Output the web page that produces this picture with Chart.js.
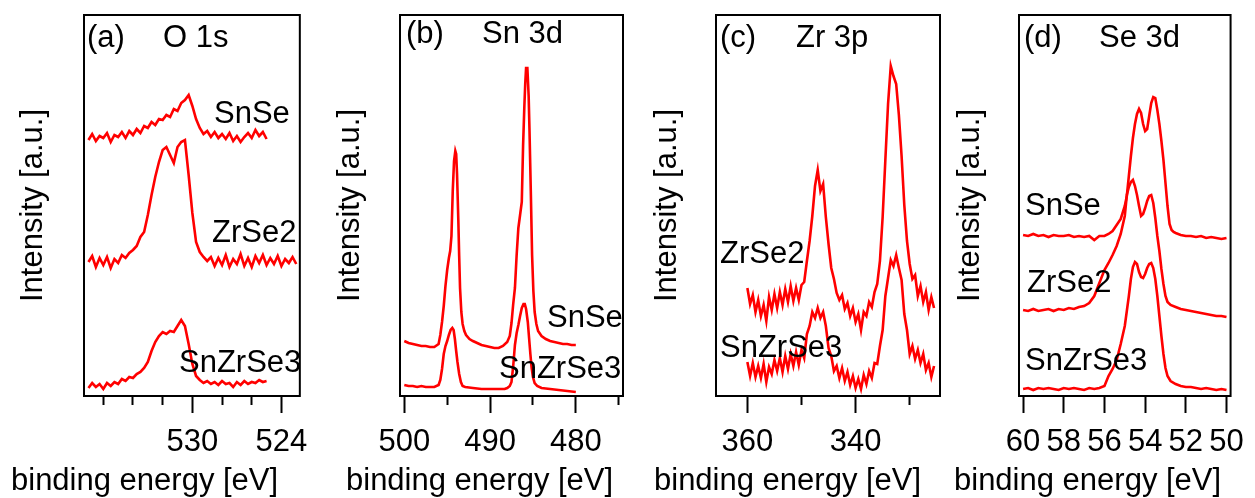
<!DOCTYPE html>
<html><head><meta charset="utf-8">
<script src="https://cdn.jsdelivr.net/npm/chart.js@4.4.1/dist/chart.umd.min.js"></script>
<style>
html,body{margin:0;padding:0;background:#fff;}
#wrap{position:relative;width:1255px;height:498px;overflow:hidden;background:#fff;}
canvas{position:absolute;top:0;}
</style></head><body><div id="wrap">
<canvas id="pa"></canvas><canvas id="pb"></canvas><canvas id="pc"></canvas><canvas id="pd"></canvas>
</div>
<script>
// ---------- (a) O 1s ----------
const aEnergy = [537,536.75,536.5,536.25,536,535.75,535.5,535.25,535,534.75,534.5,534.25,534,533.75,533.5,533.25,533,532.75,532.5,532.25,532,531.75,531.5,531.25,531,530.75,530.5,530.25,530,529.75,529.5,529.25,529,528.75,528.5,528.25,528,527.75,527.5,527.25,527,526.75,526.5,526.25,526,525.75,525.5,525.25,525,524.75,524.5,524.25,524,523.75,523.5,523.25,523];
const aSnSe = [256,262,255,260,258,263,254,261,259,264,258,265,261,267,263,270,268,274,271,277,276,281,279,287,285,293,296,301,290,277,268,262,265,259,264,258,262,257,263,255,260,254,259,263,258,266,260,264,257,null,null,null,null,null,null,null,null];
const aZrSe2 = [134,140,129,138,131,139,128,137,133,141,138,143,146,150,159,164,181,201,219,234,246,249,241,233,249,254,256,221,183,154,144,139,135,139,130,138,131,141,129,137,132,142,130,138,129,140,133,141,131,138,132,140,130,137,133,139,132];
const aSnZrSe3 = [8,13,9,12,7,13,10,14,12,17,15,19,18,22,24,28,34,45,54,60,64,62,65,64,70,76,70,52,32,20,16,13,15,12,14,11,15,12,13,9,14,11,15,12,14,13,16,14,15,null,null,null,null,null,null,null,null];
const aMajor = [530,524];
const aMinor = [536,534,532,528,526];

// ---------- (b) Sn 3d ----------
const bSnSeE = [500.0,499.5,499.0,498.5,498.0,497.5,497.0,496.5,496.0,495.8,495.6,495.4,495.2,495.0,494.8,494.65,494.5,494.35,494.2,494.05,493.95,493.85,493.7,493.6,493.5,493.35,493.2,493.0,492.8,492.4,492.0,491.5,491.0,490.5,490.0,489.5,489.0,488.5,488.0,487.7,487.5,487.3,487.1,486.9,486.7,486.5,486.3,486.15,486.0,485.9,485.8,485.65,485.5,485.4,485.25,485.1,484.95,484.8,484.6,484.4,484.0,483.5,483.0,482.5,482.0,481.5,481.0,480.5,480.0];
const bSnSeI = [55,53,52,51,50,50,49,49,52,61,74,90,110,126,138,145,160,205,235,245,242,222,176,140,108,84,72,65,61,57,55,53,51,50,49,48,48,50,54,60,73,92,108,141,168,181,194,250,290,312,328,328,300,265,205,141,105,84,72,65,60,57,55,54,53,52,52,51,51];
const bSnZrSe3E = [500.0,499.5,499.0,498.5,498.0,497.5,497.0,496.5,496.0,495.8,495.6,495.4,495.2,495.0,494.8,494.6,494.4,494.25,494.1,493.95,493.8,493.6,493.4,493.2,492.9,492.0,491.0,490.0,489.0,488.3,488.0,487.7,487.5,487.3,487.1,486.9,486.7,486.5,486.3,486.1,485.95,485.8,485.6,485.45,485.3,485.15,485.0,484.8,484.5,484.0,483.0,482.0,481.0,480.0];
const bSnZrSe3I = [11,10,10,9,10,9,9,9,11,16,27,42,50,55,61,66,68,66,57,45,34,22,14,10,9,8,7,7,7,7,8,10,14,30,51,63,71,80,88,92,92,87,74,58,42,28,19,13,10,8,7,6,5,4];
const bMajor = [500,490,480];
const bMinor = [495,485,475];

// ---------- (c) Zr 3p ----------
const cEnergy = [360,359.5,359,358.5,358,357.5,357,356.5,356,355.5,355,354.5,354,353.5,353,352.5,352,351.5,351,350.5,350,349.5,349,348.5,348,347.5,347,346.5,346,345.5,345,344.5,344,343.5,343,342.5,342,341.5,341,340.5,340,339.5,339,338.5,338,337.5,337,336.5,336,335.5,335,334.5,334,333.5,333,332.5,332,331.5,331,330.5,330,329.5,329,328.5,328,327.5,327,326.5,326,325.5];
const cZrSe2 = [108,92,101,84,96,80,91,75,99,86,102,88,104,91,107,94,110,95,108,96,111,114,135,155,180,210,226,205,212,179,152,128,117,103,96,101,87,93,80,88,74,82,66,84,80,94,89,104,112,135,179,236,292,330,320,312,281,240,191,155,132,117,121,100,110,94,104,86,99,88];
const cSnZrSe3 = [34,20,33,19,30,18,32,14,29,22,36,25,38,24,40,27,42,30,44,31,46,38,62,70,84,78,88,78,84,70,48,40,25,30,18,28,15,24,11,20,8,17,7,21,12,25,18,33,32,50,66,100,118,136,130,141,128,116,82,66,42,50,37,46,33,42,26,33,19,30];
const cMajor = [360,340];
const cMinor = [350,330];

// ---------- (d) Se 3d ----------
const dSnSeE = [60.0,59.75,59.5,59.25,59.0,58.75,58.5,58.25,58.0,57.75,57.5,57.25,57.0,56.75,56.5,56.25,56.0,55.8,55.6,55.4,55.2,55.0,54.9,54.8,54.7,54.6,54.5,54.4,54.3,54.2,54.1,54.0,53.9,53.8,53.7,53.6,53.5,53.4,53.3,53.2,53.1,53.0,52.9,52.8,52.7,52.6,52.5,52.25,52.0,51.75,51.5,51.25,51.0,50.75,50.5,50.25,50.0];
const dSnSeI = [161,160,162,160,161,159,161,160,160,161,159,160,159,160,156,160,160,162,165,171,177,190,200,220,240,258,272,282,287,283,272,265,267,280,293,299,298,286,272,255,236,213,190,172,166,164,163,161,160,160,159,160,158,159,158,157,158];
const dZrSe2E = [60.0,59.75,59.5,59.25,59.0,58.75,58.5,58.25,58.0,57.75,57.5,57.25,57.0,56.75,56.5,56.25,56.0,55.8,55.6,55.4,55.2,55.0,54.9,54.8,54.7,54.6,54.5,54.4,54.3,54.2,54.1,54.0,53.9,53.8,53.7,53.6,53.5,53.4,53.3,53.2,53.1,53.0,52.9,52.75,52.5,52.25,52.0,51.75,51.5,51.25,51.0,50.75,50.5,50.25,50.0];
const dZrSe2I = [86,85,87,85,86,87,85,87,86,88,87,89,90,93,100,113,126,133,141,150,162,180,201,209,214,216,210,201,190,180,182,188,195,200,201,193,178,160,145,127,112,100,94,91,89,87,86,85,84,83,82,81,80,80,79];
const dSnZrSe3E = [60.0,59.75,59.5,59.25,59.0,58.75,58.5,58.25,58.0,57.75,57.5,57.25,57.0,56.75,56.5,56.25,56.0,55.8,55.6,55.4,55.2,55.0,54.9,54.8,54.7,54.6,54.5,54.4,54.3,54.2,54.1,54.0,53.9,53.8,53.7,53.6,53.5,53.4,53.3,53.2,53.1,53.0,52.9,52.75,52.5,52.25,52.0,51.75,51.5,51.25,51.0,50.75,50.5,50.25,50.0];
const dSnZrSe3I = [7,8,6,8,7,8,7,6,8,7,8,7,6,8,7,8,10,20,27,36,52,70,85,100,117,129,134,132,124,119,118,122,128,132,133,128,117,100,80,60,42,28,20,15,12,10,9,9,8,7,8,7,6,7,6];
const dMajor = [60,58,56,54,52,50];
const dMinor = [];

const xTitle = 'binding energy [eV]';
const yTitle = 'Intensity [a.u.]';

// ---------- layout / style ----------
const FONT = '"Liberation Sans", Arial, Helvetica, sans-serif';
const FS = 31;
const RED = '#ff0000';
Chart.defaults.font.family = FONT;
Chart.defaults.color = '#000';

function toXY(xs, ys) {
  const out = [];
  for (let i = 0; i < xs.length; i++) if (ys[i] !== null && ys[i] !== undefined) out.push({x: xs[i], y: ys[i]});
  return out;
}

const panels = [
  {id:'pa', left:0, width:320, yWidth:84, padRight:13, yTitlePad:15, xMin:522.76, xMax:537.3, major:aMajor, minor:aMinor,
   series:[[aEnergy,aSnSe],[aEnergy,aZrSe2],[aEnergy,aSnZrSe3]],
   texts:[['(a)',87,47],['O 1s',163,47],['SnSe',214,123],['ZrSe2',212,242],['SnZrSe3',179,372],[xTitle,11,490]]},
  {id:'pb', left:320, width:315, yWidth:80, padRight:12, yTitlePad:12, xMin:474.5, xMax:500.5, major:bMajor, minor:bMinor,
   series:[[bSnSeE,bSnSeI],[bSnZrSe3E,bSnZrSe3I]],
   texts:[['(b)',406,43],['Sn 3d',482,43],['SnSe',547,327],['SnZrSe3',499,378],[xTitle,346,490]]},
  {id:'pc', left:635, width:315, yWidth:81, padRight:10, yTitlePad:14, xMin:324.4, xMax:365.8, major:cMajor, minor:cMinor,
   series:[[cEnergy,cZrSe2],[cEnergy,cSnZrSe3]],
   texts:[['(c)',720,47],['Zr 3p',796,47],['ZrSe2',720,263],['SnZrSe3',720,357],[xTitle,654,490]]},
  {id:'pd', left:950, width:305, yWidth:69, padRight:13, yTitlePad:2, xMin:49.8, xMax:60.2, major:dMajor, minor:dMinor,
   series:[[dSnSeE,dSnSeI],[dZrSe2E,dZrSe2I],[dSnZrSe3E,dSnZrSe3I]],
   texts:[['(d)',1024,47],['Se 3d',1099,47],['SnSe',1025,215],['ZrSe2',1027,292],['SnZrSe3',1025,370],[xTitle,954,490]]}
];

for (const p of panels) {
  const cv = document.getElementById(p.id);
  cv.width = p.width; cv.height = 498;
  cv.style.left = p.left + 'px';
  cv.style.width = p.width + 'px'; cv.style.height = '498px';

  const frame = {
    id: 'frame' + p.id,
    afterDraw(chart) {
      const {ctx, chartArea: a} = chart;
      ctx.save();
      ctx.strokeStyle = '#000'; ctx.lineWidth = 2;
      ctx.strokeRect(a.left, a.top, a.right - a.left, a.bottom - a.top);
      ctx.fillStyle = '#000';
      ctx.font = FS + 'px ' + FONT;
      ctx.textAlign = 'left'; ctx.textBaseline = 'alphabetic';
      for (const t of p.texts) ctx.fillText(t[0], t[1] - p.left, t[2]);
      ctx.restore();
    }
  };

  const scales = {
    x: {type:'linear', position:'bottom', weight:1, min:p.xMin, max:p.xMax, reverse:true, bounds:'data',
        afterBuildTicks: s => { s.ticks = p.major.map(v => ({value:v})); },
        afterFit: s => { s.height = 102; },
        grid:{display:true, drawOnChartArea:false, drawTicks:true, tickLength:17, tickWidth:2, tickColor:'#000'},
        border:{display:false},
        ticks:{autoSkip:false, maxRotation:0, minRotation:0, padding:11, color:'#000', font:{family:FONT, size:FS}, callback: v => String(v)}},
    y: {type:'linear', position:'left', min:0, max:381,
        afterFit: s => { s.width = p.yWidth; },
        ticks:{display:false}, grid:{display:false}, border:{display:false},
        title:{display:true, text:yTitle, color:'#000', font:{family:FONT, size:FS}, padding:{top:p.yTitlePad, bottom:0}}}
  };
  if (p.minor.length) {
    scales.xm = {type:'linear', position:'bottom', weight:0, min:p.xMin, max:p.xMax, reverse:true, bounds:'data',
        afterBuildTicks: s => { s.ticks = p.minor.map(v => ({value:v})); },
        afterFit: s => { s.height = 0; },
        grid:{display:true, drawOnChartArea:false, drawTicks:true, tickLength:9, tickWidth:2, tickColor:'#000'},
        border:{display:false},
        ticks:{display:false}};
  }

  new Chart(cv, {
    type: 'line',
    data: {datasets: p.series.map(s => ({data: toXY(s[0], s[1]), borderColor: RED, borderWidth: 2.6, pointRadius: 0, tension: 0, fill: false, xAxisID: 'x', yAxisID: 'y'}))},
    options: {
      responsive:false, animation:false, devicePixelRatio:1,
      layout:{padding:{left:0, right:p.padRight, top:15, bottom:0}},
      plugins:{legend:{display:false}, tooltip:{enabled:false}},
      scales: scales
    },
    plugins:[frame]
  });
}
</script>
</body></html>
